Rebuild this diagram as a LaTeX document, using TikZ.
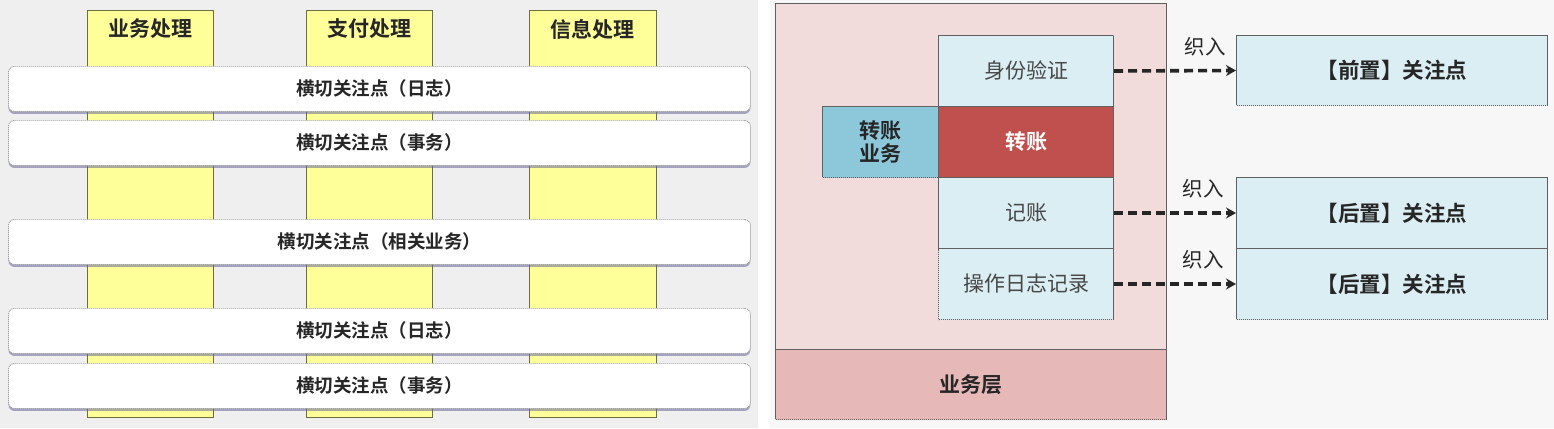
\documentclass[tikz,border=0pt]{standalone}
\usepackage{fontspec}
\setmainfont{Noto Sans CJK SC}[BoldFont={Noto Sans CJK SC Bold}]
\usetikzlibrary{arrows.meta,shadows}
\definecolor{bgL}{HTML}{EFEFEF}
\definecolor{bgR}{HTML}{F7F7F7}
\definecolor{yel}{HTML}{FFFF99}
\definecolor{yelB}{HTML}{6E6E3A}
\definecolor{pinkA}{HTML}{F2DCDB}
\definecolor{pinkB}{HTML}{E6B9B8}
\definecolor{lblue}{HTML}{DBEEF3}
\definecolor{redA}{HTML}{C0504D}
\definecolor{teal}{HTML}{8CC8DA}
\definecolor{txt}{HTML}{262626}
\definecolor{dotB}{HTML}{606060}
\begin{document}
\begin{tikzpicture}[x=1pt,y=-1pt,
  col/.style={draw=yelB, line width=1pt, fill=yel, anchor=north west, inner sep=0pt},
  coltext/.style={font=\bfseries\fontsize{21}{21}\selectfont, text=txt},
  bar/.style={draw=gray!70, dash pattern=on 1.2pt off 0.8pt, line width=0.9pt, fill=white, rounded corners=6pt,
     anchor=north west, inner sep=0pt, minimum width=742pt, minimum height=45pt,
     drop shadow={shadow xshift=0pt, shadow yshift=-2.5pt, fill=gray!80!blue, opacity=0.55},
     font=\bfseries\fontsize{18.5}{18.5}\selectfont, text=txt},
  dbox/.style={draw=dotB, dash pattern=on 1.2pt off 0.8pt, line width=1pt, anchor=north west, inner sep=0pt},
  btext/.style={font=\fontsize{21}{21}\selectfont, text=txt!85},
  bbold/.style={font=\bfseries\fontsize{21}{21}\selectfont, text=txt},
  rbold/.style={font=\bfseries\fontsize{21.5}{21.5}\selectfont, text=txt},
  weave/.style={line width=3.6pt, dash pattern=on 9pt off 5pt, -{Stealth[length=10pt,width=11pt]}, draw=txt},
  wlabel/.style={font=\fontsize{20.5}{20.5}\selectfont, text=txt}
]
\useasboundingbox (0,0) rectangle (1554,428);
% backgrounds
\fill[bgL] (0,0) rectangle (758,428);
\fill[white] (758,0) rectangle (770,428);
\fill[bgR] (770,0) rectangle (1554,428);

% ---------- left panel ----------
\node[col, minimum width=126pt, minimum height=407pt] (c1) at (87,10) {};
\node[col, minimum width=126pt, minimum height=407pt] (c2) at (306,10) {};
\node[col, minimum width=127pt, minimum height=407pt] (c3) at (529,10) {};
\node[coltext] (c1t) at (150,29) {业务处理};
\node[coltext] (c2t) at (369,29) {支付处理};
\node[coltext] (c3t) at (592,29) {信息处理};

\node[bar] (b1) at (8,66) {横切关注点（日志）};
\node[bar] (b2) at (8,120) {横切关注点（事务）};
\node[bar] (b3) at (8,219) {横切关注点（相关业务）};
\node[bar] (b4) at (8,308) {横切关注点（日志）};
\node[bar] (b5) at (8,363) {横切关注点（事务）};

% ---------- right panel ----------
\node[dbox, fill=pinkA, minimum width=391pt, minimum height=346pt] (layer) at (775,3) {};
\node[dbox, fill=pinkB, minimum width=391pt, minimum height=70pt, bbold] (layerb) at (775,349) {业务层};

\node[dbox, fill=lblue, minimum width=175pt, minimum height=71pt, btext] (auth) at (938,35) {身份验证};
\node[dbox, fill=redA, minimum width=175pt, minimum height=71pt, font=\bfseries\fontsize{21}{21}\selectfont, text=white] (tr) at (938,106) {转账};
\node[dbox, fill=teal, minimum width=116pt, minimum height=71pt, bbold, align=center] (trb) at (822,106) {转账\\[2pt]业务};
\node[dbox, fill=lblue, minimum width=175pt, minimum height=71pt, btext] (acc) at (938,177) {记账};
\node[dbox, fill=lblue, minimum width=175pt, minimum height=71pt, btext] (log) at (938,248) {操作日志记录};

\node[dbox, fill=lblue, minimum width=311pt, minimum height=70pt, rbold] (pre) at (1236,35) {【前置】关注点};
\node[dbox, fill=lblue, minimum width=311pt, minimum height=71pt, rbold] (post1) at (1236,177) {【后置】关注点};
\node[dbox, fill=lblue, minimum width=311pt, minimum height=71pt, rbold] (post2) at (1236,248) {【后置】关注点};

\draw[weave] (auth.east) -- (pre.west);
\draw[weave] (acc.east) -- (post1.west);
\draw[weave] (log.east) -- (post2.west);
\node[wlabel] (w1) at (1205,47) {织入};
\node[wlabel] (w2) at (1203,189) {织入};
\node[wlabel] (w3) at (1203,260) {织入};
\end{tikzpicture}
\end{document}
